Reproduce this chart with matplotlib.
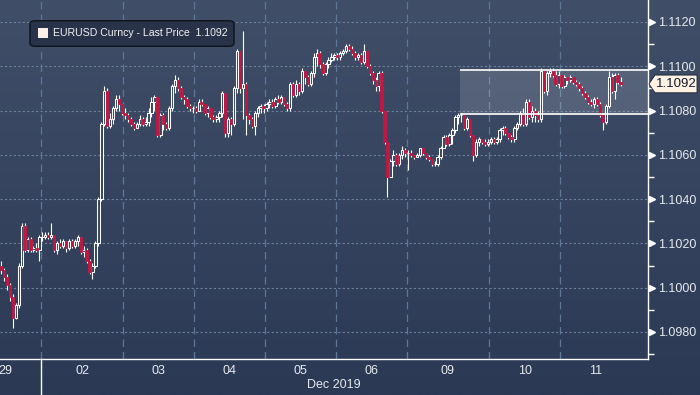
import numpy as np
import matplotlib
matplotlib.use("Agg")
import matplotlib.pyplot as plt
from matplotlib.patches import Rectangle, FancyBboxPatch, Polygon
from matplotlib.ticker import MultipleLocator, FixedLocator
from matplotlib.transforms import blended_transform_factory

plt.rcParams['font.family'] = ['Liberation Sans', 'DejaVu Sans']

# hourly EURUSD candles, 29 Nov - 11 Dec 2019 (open = previous close)
first_open = 1.1010

close_29 = [1.1008, 1.1005, 1.1001, 1.0996, 1.09865, 1.0992, 1.1010, 1.1028, 1.1017, 1.1022, 1.1017, 1.1018, 1.1017, 1.1023]
high_29 = [1.1012, 1.1009, 1.1006, 1.1002, 1.0997, 1.0993, 1.1011, 1.1029, 1.1029, 1.1023, 1.1023, 1.1019, 1.1020, 1.1024]
low_29 = [1.1006, 1.1003, 1.0999, 1.0994, 1.0982, 1.0986, 1.0991, 1.1009, 1.1016, 1.1016, 1.1016, 1.1016, 1.1016, 1.1012]

close_02 = [1.1023, 1.1024, 1.1023, 1.1024, 1.1017, 1.1020, 1.1019, 1.1021, 1.1018, 1.1021, 1.1019, 1.1021, 1.1023, 1.1016,
            1.1017, 1.1012, 1.1007, 1.1010, 1.1020, 1.1040, 1.1074, 1.1089, 1.1073, 1.1076, 1.1081, 1.1085, 1.1083, 1.1079]
high_02 = [1.1025, 1.1025, 1.1025, 1.1029, 1.1024, 1.1021, 1.1022, 1.1022, 1.1021, 1.1022, 1.1022, 1.1022, 1.1024, 1.1023,
           1.1019, 1.1018, 1.1013, 1.1011, 1.1021, 1.1041, 1.1075, 1.1091, 1.1090, 1.1079, 1.1082, 1.1087, 1.1087, 1.1083]
low_02 = [1.1021, 1.1022, 1.1022, 1.1022, 1.1016, 1.1015, 1.1018, 1.1018, 1.1016, 1.1017, 1.1018, 1.1018, 1.1019, 1.1015,
          1.1014, 1.1011, 1.1006, 1.1004, 1.1009, 1.1019, 1.1039, 1.1073, 1.1072, 1.1072, 1.1074, 1.1080, 1.1080, 1.1078]

close_03 = [1.1078, 1.1076, 1.1074, 1.1072, 1.1074, 1.1076, 1.1074, 1.1075, 1.1079, 1.1084, 1.1086, 1.1069,
            1.1078, 1.1074, 1.1072, 1.1081, 1.1091, 1.1094, 1.1090, 1.1086, 1.1085, 1.1082, 1.1081, 1.1081]
high_03 = [1.1081, 1.1079, 1.1077, 1.1075, 1.1075, 1.1078, 1.1077, 1.1077, 1.1081, 1.1086, 1.1087, 1.1086,
           1.1079, 1.1079, 1.1075, 1.1082, 1.1092, 1.1096, 1.1095, 1.1091, 1.1087, 1.1086, 1.1083, 1.1082]
low_03 = [1.1076, 1.1075, 1.1073, 1.1071, 1.1072, 1.1073, 1.1073, 1.1073, 1.1073, 1.1077, 1.1080, 1.1068,
          1.1068, 1.1071, 1.1071, 1.1071, 1.1080, 1.1088, 1.1089, 1.1085, 1.1083, 1.1081, 1.1080, 1.1079]

close_04 = [1.1080, 1.1084, 1.1083, 1.1079, 1.1081, 1.1077, 1.1076, 1.1077, 1.1079, 1.1088, 1.1070, 1.1076,
            1.1074, 1.1090, 1.1107, 1.1090, 1.1092, 1.1078, 1.1076, 1.1073, 1.1079, 1.1081, 1.1082, 1.1081]
high_04 = [1.1082, 1.1085, 1.1085, 1.1083, 1.1082, 1.1081, 1.1078, 1.1078, 1.1080, 1.1089, 1.1088, 1.1077,
           1.1077, 1.1091, 1.1108, 1.1107, 1.1116, 1.1093, 1.1079, 1.1077, 1.1080, 1.1082, 1.1083, 1.1083]
low_04 = [1.1079, 1.1080, 1.1082, 1.1078, 1.1077, 1.1076, 1.1075, 1.1075, 1.1075, 1.1077, 1.1068, 1.1068,
          1.1069, 1.1073, 1.1088, 1.1088, 1.1076, 1.1069, 1.1074, 1.1072, 1.1069, 1.1077, 1.1079, 1.1079]

close_05 = [1.1083, 1.1084, 1.1082, 1.1085, 1.1084, 1.1086, 1.1083, 1.1081, 1.1092, 1.1087, 1.1092, 1.1089,
            1.1098, 1.1095, 1.1092, 1.1097, 1.1104, 1.1106, 1.1101, 1.1097, 1.1101, 1.1103, 1.1104, 1.1105]
high_05 = [1.1084, 1.1085, 1.1085, 1.1086, 1.1087, 1.1087, 1.1086, 1.1084, 1.1093, 1.1093, 1.1094, 1.1093,
           1.1099, 1.1098, 1.1096, 1.1098, 1.1106, 1.1108, 1.1107, 1.1102, 1.1102, 1.1104, 1.1106, 1.1106]
low_05 = [1.1080, 1.1081, 1.1081, 1.1081, 1.1083, 1.1083, 1.1082, 1.1080, 1.1080, 1.1086, 1.1086, 1.1087,
          1.1088, 1.1092, 1.1091, 1.1091, 1.1095, 1.1100, 1.1099, 1.1096, 1.1096, 1.1099, 1.1102, 1.1103]

close_06 = [1.1104, 1.1106, 1.1107, 1.1109, 1.1108, 1.1106, 1.1104, 1.1105, 1.1102, 1.1107, 1.1100, 1.1097,
            1.1094, 1.1091, 1.1097, 1.1080, 1.1066, 1.1050, 1.1057, 1.1060, 1.1056, 1.1060, 1.1062, 1.1061]
high_06 = [1.1106, 1.1107, 1.1108, 1.1110, 1.1110, 1.1109, 1.1107, 1.1106, 1.1106, 1.1110, 1.1107, 1.1101,
           1.1098, 1.1095, 1.1098, 1.1098, 1.1080, 1.1066, 1.1058, 1.1062, 1.1061, 1.1061, 1.1064, 1.1063]
low_06 = [1.1103, 1.1103, 1.1105, 1.1106, 1.1107, 1.1105, 1.1103, 1.1103, 1.1101, 1.1101, 1.1099, 1.1096,
          1.1092, 1.1089, 1.1089, 1.1079, 1.1065, 1.1041, 1.1050, 1.1055, 1.1055, 1.1055, 1.1058, 1.1059]

close_09 = [1.1061, 1.1060, 1.1059, 1.1060, 1.1063, 1.1061, 1.1059, 1.1058, 1.1056, 1.1056, 1.1059, 1.1063, 1.1068, 1.1065,
            1.1069, 1.1071, 1.1077, 1.1078, 1.1078, 1.1072, 1.1076, 1.1069, 1.1060, 1.1066, 1.1067, 1.1066, 1.1065, 1.1066]
high_09 = [1.1062, 1.1062, 1.1060, 1.1061, 1.1063, 1.1063, 1.1061, 1.1060, 1.1058, 1.1057, 1.1060, 1.1064, 1.1069, 1.1069,
           1.1070, 1.1072, 1.1078, 1.1079, 1.1079, 1.1078, 1.1077, 1.1075, 1.1069, 1.1067, 1.1068, 1.1067, 1.1067, 1.1067]
low_09 = [1.1053, 1.1059, 1.1058, 1.1059, 1.1059, 1.1060, 1.1058, 1.1057, 1.1055, 1.1055, 1.1055, 1.1058, 1.1063, 1.1064,
          1.1064, 1.1065, 1.1070, 1.1074, 1.1075, 1.1071, 1.1071, 1.1068, 1.1057, 1.1059, 1.1064, 1.1065, 1.1064, 1.1064]

close_10 = [1.1067, 1.1066, 1.1067, 1.1071, 1.1072, 1.1070, 1.1068, 1.1067, 1.1072, 1.1074, 1.1079, 1.1074,
            1.1084, 1.1077, 1.1080, 1.1078, 1.1076, 1.1098, 1.1089, 1.1097, 1.1098, 1.1096, 1.1092, 1.1096]
high_10 = [1.1068, 1.1068, 1.1068, 1.1072, 1.1073, 1.1073, 1.1070, 1.1069, 1.1073, 1.1075, 1.1080, 1.1081,
           1.1085, 1.1085, 1.1082, 1.1081, 1.1080, 1.1099, 1.1098, 1.1098, 1.1099, 1.1099, 1.1098, 1.1098]
low_10 = [1.1065, 1.1065, 1.1065, 1.1066, 1.1069, 1.1069, 1.1067, 1.1066, 1.1066, 1.1071, 1.1073, 1.1073,
          1.1073, 1.1076, 1.1075, 1.1075, 1.1075, 1.1075, 1.1088, 1.1087, 1.1095, 1.1095, 1.1091, 1.1090]

close_11 = [1.1091, 1.1095, 1.1094, 1.1095, 1.1093, 1.1092, 1.1090, 1.1088, 1.1086, 1.1084, 1.1083,
            1.1085, 1.1083, 1.1078, 1.1075, 1.1082, 1.1095, 1.1089, 1.1096, 1.1093, 1.1092]
high_11 = [1.1096, 1.1096, 1.1095, 1.1096, 1.1095, 1.1094, 1.1093, 1.1091, 1.1089, 1.1087, 1.1085,
           1.1086, 1.1086, 1.1084, 1.1079, 1.1083, 1.1098, 1.1097, 1.1097, 1.1097, 1.1095]
low_11 = [1.1090, 1.1090, 1.1092, 1.1093, 1.1092, 1.1091, 1.1089, 1.1087, 1.1085, 1.1083, 1.1082,
          1.1081, 1.1082, 1.1077, 1.1071, 1.1074, 1.1081, 1.1088, 1.1085, 1.1092, 1.1091]

day_labels = ["29", "02", "03", "04", "05", "06", "09", "10", "11"]
day_hours = [24, 28, 24, 24, 24, 24, 28, 24, 24]
hidden_hours_29 = 10  # part of 29 Nov left of the window

y_ticks = [1.0980, 1.1000, 1.1020, 1.1040, 1.1060, 1.1080, 1.1100, 1.1120]
zone_low, zone_high = 1.10786, 1.10983
zone_start = 155.6
last_price = 1.1092
month_label = "Dec 2019"
legend_text = "EURUSD Curncy - Last Price  1.1092"

close = np.array(close_29 + close_02 + close_03 + close_04 + close_05 + close_06 + close_09 + close_10 + close_11)
high = np.array(high_29 + high_02 + high_03 + high_04 + high_05 + high_06 + high_09 + high_10 + high_11)
low = np.array(low_29 + low_02 + low_03 + low_04 + low_05 + low_06 + low_09 + low_10 + low_11)
opn = np.concatenate([[first_open], close[:-1]])
x = np.arange(len(close))

day_edges = -hidden_hours_29 - 0.5 + np.concatenate([[0], np.cumsum(day_hours)])
day_centers = (day_edges[:-1] + day_edges[1:]) / 2

W, H = 700, 395
fig = plt.figure(figsize=(W / 100, H / 100), dpi=100)

# background gradient
bg = fig.add_axes([0, 0, 1, 1], zorder=-10)
top_c = np.array([0x40, 0x4e, 0x68]) / 255
bot_c = np.array([0x2b, 0x39, 0x55]) / 255
t = np.linspace(0, 1, 256)[:, None, None]
grad = top_c * (1 - t) + bot_c * t
bg.imshow(grad, aspect="auto", extent=[0, 1, 0, 1])
bg.set_axis_off()

ax = fig.add_axes([0, 36 / H, 648 / W, 359 / H])
ax.patch.set_alpha(0)
xmin, xmax = -0.35, 219.31
ax.set_xlim(xmin, xmax)
ax.set_ylim(1.09678, 1.11299)

# grid
ax.hlines(y_ticks, xmin, xmax, colors="#6b7f9b", linestyles=(0, (2, 2)), lw=0.8, zorder=1)
ax.vlines(day_edges[1:-1], 1.09678, 1.11299, colors="#5d7896", linestyles=(0, (6, 4)), lw=0.9, zorder=1)

# highlighted range
ax.add_patch(Rectangle((zone_start, zone_low), xmax - zone_start, zone_high - zone_low,
                       facecolor="white", alpha=0.14, edgecolor="none", zorder=2))
ax.hlines([zone_low, zone_high], zone_start, xmax, colors="white", lw=1.2, zorder=6)

# candles
up = close >= opn
ax.vlines(x, low, high, colors="white", lw=0.8, zorder=3)
ax.bar(x[up], (close - opn)[up], bottom=opn[up], width=0.8, facecolor="#3a4760",
       edgecolor="white", lw=0.75, zorder=4)
ax.bar(x[~up], (close - opn)[~up], bottom=opn[~up], width=0.8, facecolor="#c01843",
       edgecolor="#c01843", lw=0.6, zorder=4)

for s in ["top", "left"]:
    ax.spines[s].set_visible(False)
for s in ["bottom", "right"]:
    ax.spines[s].set_color("white")
    ax.spines[s].set_linewidth(1.0)

ax.yaxis.tick_right()
ax.yaxis.set_major_locator(FixedLocator(y_ticks))
ax.yaxis.set_minor_locator(MultipleLocator(0.001))
ax.set_yticklabels([f"{v:.4f}" for v in y_ticks])
ax.tick_params(axis="y", which="major", length=0, pad=7, labelsize=9, labelcolor="#e6eaf0")
ax.tick_params(axis="y", which="minor", length=4, width=1, color="white", direction="out")
ytr = blended_transform_factory(ax.transAxes, ax.transData)
ax.plot([1.0055] * len(y_ticks), y_ticks, ">", color="white", ms=5, transform=ytr, clip_on=False, zorder=7)

ax.set_xticks(day_centers)
ax.set_xticklabels(day_labels)
ax.tick_params(axis="x", length=0, pad=4, labelsize=9, labelcolor="#e6eaf0")
fig.text(334 / W, 1 - 385 / H, month_label, ha="center", va="center", fontsize=9, color="#e6eaf0")

# Nov/Dec separator below the axis
sep_x = ax.transData.transform((day_edges[1], 0))[0] / W
fig.add_artist(plt.Line2D([sep_x, sep_x], [0, 36 / H], color="white", lw=1.0))

# legend box
fig.add_artist(FancyBboxPatch((30 / W, 1 - 46.3 / H), 204 / W, 25.6 / H,
                              boxstyle="round,pad=0,rounding_size=0.008",
                              facecolor="#28334a", edgecolor="#0e131c", lw=1.0,
                              transform=fig.transFigure))
fig.add_artist(Rectangle((38 / W, 1 - 38 / H), 10 / W, 10 / H, facecolor="#fdf0ea",
                         edgecolor="none", transform=fig.transFigure))
fig.text(53 / W, 1 - 33.5 / H, legend_text, ha="left", va="center", fontsize=7.6, color="#f2f2f2")

# last price tag
ftr = blended_transform_factory(fig.transFigure, ax.transData)
hh = 0.0004
tag = Polygon([(649 / W, last_price), (655 / W, last_price + hh), (697 / W, last_price + hh),
               (697 / W, last_price - hh), (655 / W, last_price - hh)], closed=True,
              facecolor="#fdf2e4", edgecolor="#1b2130", lw=0.6, transform=ftr, clip_on=False, zorder=8)
fig.add_artist(tag)
fig.text(676.5 / W, 0, f"{last_price:.4f}", transform=ftr, ha="center", va="center",
         fontsize=9.5, color="#15192a", zorder=9).set_y(last_price)

fig.savefig("out.png", dpi=100)
